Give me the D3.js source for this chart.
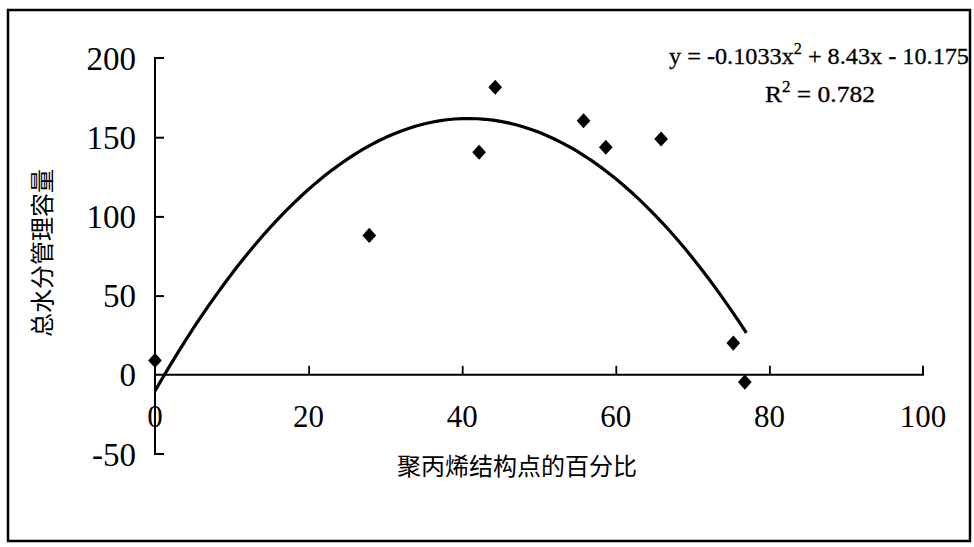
<!DOCTYPE html>
<html><head><meta charset="utf-8">
<script src="https://cdn.jsdelivr.net/npm/d3@7/dist/d3.min.js"></script>
<style>body{margin:0;background:#fff;}svg{display:block;}</style>
</head><body>
<svg id="c" width="974" height="547"></svg>
<script>
// Data
const pointX = [0, 27.9, 42.2, 44.3, 55.8, 58.7, 65.9, 75.3, 76.8];
const pointY = [9, 88, 140.5, 181.5, 160.4, 143.7, 148.9, 20, -4.6];
// Displayed trendline y = a x^2 + b x + c, drawn over the fitted range
const trendCoef = [-0.1033, 8.43, -10.175];
const trendRange = [0, 77];
const xTicks = [0, 20, 40, 60, 80, 100];
const yTicks = [-50, 0, 50, 100, 150, 200];
const xTitle = "聚丙烯结构点的百分比";
const yTitle = "总水分管理容量";
const eqText = ["y = -0.1033x", "2", " + 8.43x - 10.175"];
const r2Text = ["R", "2", " = 0.782"];

const svg = d3.select("#c");
const serif = "'Liberation Serif','DejaVu Serif',serif";
const cjk = "'Noto Sans CJK SC','Noto Sans',sans-serif";

// frame
svg.append("rect").attr("x", 8).attr("y", 10).attr("width", 962).attr("height", 531)
  .attr("fill", "none").attr("stroke", "#000").attr("stroke-width", 2.5);

const x = d3.scaleLinear().domain([0, 100]).range([155, 923]);
const y = d3.scaleLinear().domain([-50, 200]).range([454, 58]);

// y axis
const yAx = svg.append("g").attr("transform", `translate(${x(0)},0)`)
  .call(d3.axisRight(y).tickValues(yTicks.filter(d => d > -50 && d < 200 && d !== 0)).tickSize(9).tickFormat(""));
yAx.select(".domain").attr("d", `M9,${y(200)}H0V${y(-50)}H9`).attr("stroke-width", 2).attr("fill", "none");
yAx.selectAll(".tick line").attr("stroke", "#000").attr("stroke-width", 2);

// y tick labels
svg.append("g").selectAll("text").data(yTicks).join("text")
  .attr("x", 136).attr("y", d => y(d)).attr("dy", "0.35em")
  .attr("text-anchor", "end").attr("font-family", serif).attr("font-size", 33)
  .text(d => d);

// x axis along y=0
const xAx = svg.append("g").attr("transform", `translate(0,${y(0)})`)
  .call(d3.axisTop(x).tickValues(xTicks.filter(d => d > 0 && d < 100)).tickSize(9).tickFormat(""));
xAx.select(".domain").attr("d", `M${x(0)},0H${x(100)}V-9`).attr("stroke-width", 2).attr("fill", "none");
xAx.selectAll(".tick line").attr("stroke", "#000").attr("stroke-width", 1.8);

// x tick labels
svg.append("g").selectAll("text").data(xTicks).join("text")
  .attr("x", d => x(d)).attr("y", 416).attr("dy", "0.35em")
  .attr("text-anchor", "middle").attr("font-family", serif).attr("font-size", 31)
  .text(d => d);

// trendline
const tx = d3.range(trendRange[0], trendRange[1] + 0.001, 1);
const line = d3.line().x(d => x(d)).y(d => y(trendCoef[0]*d*d + trendCoef[1]*d + trendCoef[2]));
svg.append("path").datum(tx).attr("d", line)
  .attr("fill", "none").attr("stroke", "#000").attr("stroke-width", 3.2).attr("stroke-linejoin", "round");

// points (diamonds)
const pts = pointX.map((v, i) => [v, pointY[i]]);
svg.append("g").selectAll("path").data(pts).join("path")
  .attr("transform", d => `translate(${x(d[0])},${y(d[1])}) scale(1,1.1)`)
  .attr("d", d3.symbol().type(d3.symbolDiamond2).size(120))
  .attr("fill", "#000");

// equation
function sup(parts, xPos, yPos, len) {
  const t = svg.append("text").attr("x", xPos).attr("y", yPos)
    .attr("font-family", serif).attr("font-size", 24).attr("text-anchor", "middle")
    .attr("stroke", "#000").attr("stroke-width", 0.3);
  t.append("tspan").text(parts[0]);
  t.append("tspan").attr("dy", -10).attr("font-size", 16).text(parts[1]);
  t.append("tspan").attr("dy", 10).text(parts[2]);
  if (len) t.attr("textLength", len).attr("lengthAdjust", "spacingAndGlyphs");
}
sup(eqText, 819, 64, 300);
sup(r2Text, 820, 102, 110);

// axis titles
svg.append("text").attr("x", 517).attr("y", 467).attr("dy", "0.35em")
  .attr("text-anchor", "middle").attr("font-family", cjk).attr("font-size", 24)
  .text(xTitle);
svg.append("text").attr("transform", "translate(43,253) rotate(-90)").attr("dy", "0.35em")
  .attr("text-anchor", "middle").attr("font-family", cjk).attr("font-size", 24)
  .text(yTitle);
</script>
</body></html>
